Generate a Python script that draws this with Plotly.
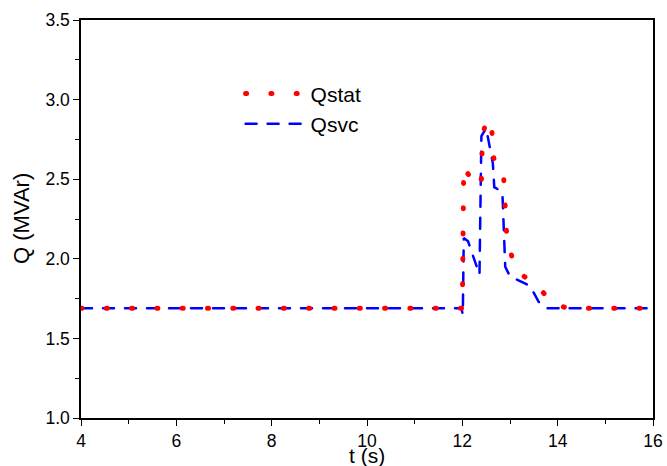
import plotly.graph_objects as go

# Reactive power of the STATCOM (Qstat) and the SVC (Qsvc) versus time
t_stat = [4.0, 12.0, 12.03, 12.28, 12.40, 12.42, 12.50, 12.62, 12.66, 12.86,
          12.93, 13.05, 13.25, 13.60, 13.90, 14.20, 16.0]
q_stat = [1.69, 1.69, 2.58, 2.45, 2.50, 2.75, 2.88, 2.80, 2.63, 2.55,
          2.15, 2.00, 1.90, 1.82, 1.72, 1.69, 1.69]

t_svc = [4.0, 11.98, 12.01, 12.03, 12.12, 12.36, 12.40, 12.50, 12.64, 12.67,
         12.84, 12.90, 13.00, 13.20, 13.42, 13.60, 13.75, 16.0]
q_svc = [1.69, 1.69, 1.65, 2.13, 2.11, 1.90, 2.77, 2.82, 2.60, 2.45,
         2.42, 1.95, 1.89, 1.86, 1.83, 1.73, 1.69, 1.69]

x_ticks = [4, 6, 8, 10, 12, 14, 16]
y_ticks = [1.0, 1.5, 2.0, 2.5, 3.0, 3.5]

FONT = "Liberation Sans, Arial, sans-serif"

fig = go.Figure()
fig.add_trace(go.Scatter(
    x=t_svc, y=q_svc, mode="lines", name="Qsvc",
    line=dict(color="#0000ff", width=2.5, dash="11px,11px"),
))
fig.add_trace(go.Scatter(
    x=t_stat, y=q_stat, mode="lines", name="Qstat",
    line=dict(color="#ff0000", width=5, dash="1px,24.3px"),
))

axis_common = dict(
    showline=True, linecolor="black", linewidth=1.5, mirror=True,
    ticks="outside", ticklen=6, tickwidth=1.2, tickcolor="black",
    showgrid=False, zeroline=False, automargin=False,
    tickfont=dict(family=FONT, size=17.5, color="black"),
)

fig.update_xaxes(
    range=[4, 16], tickvals=x_ticks, ticktext=[str(v) for v in x_ticks],
    minor=dict(ticks="outside", ticklen=4, tickwidth=1, dtick=1, tick0=4,
               tickcolor="black"),
    **axis_common,
)
fig.update_yaxes(
    range=[1.0, 3.5], tickvals=y_ticks, ticktext=[f"{v:.1f}" for v in y_ticks],
    minor=dict(ticks="outside", ticklen=4, tickwidth=1, dtick=0.25, tick0=1.0,
               tickcolor="black"),
    **axis_common,
)

# Axis titles placed as annotations so they sit just outside the tick labels
fig.add_annotation(
    text="t (s)", xref="paper", yref="paper", x=0.5, y=0,
    xanchor="center", yanchor="top", yshift=-25, showarrow=False,
    borderpad=0, font=dict(family=FONT, size=21, color="black"),
)
fig.add_annotation(
    text="Q (MVAr)", xref="paper", yref="paper", x=0, y=0.5,
    xanchor="center", yanchor="middle", xshift=-60, textangle=-90,
    showarrow=False, font=dict(family=FONT, size=22, color="black"),
)

fig.update_layout(
    width=667, height=466,
    margin=dict(l=81, r=14, t=20, b=47.5),
    plot_bgcolor="white", paper_bgcolor="white",
    font=dict(family=FONT, color="black"),
    legend=dict(
        x=0.279, y=0.866, xanchor="left", yanchor="top",
        traceorder="reversed", itemwidth=60, tracegroupgap=0,
        font=dict(family=FONT, size=21, color="black"),
        bgcolor="rgba(0,0,0,0)",
    ),
)

round_caps = """
document.querySelectorAll('.scatterlayer .js-line, .legend .js-line').forEach(function(p){
  p.style.strokeLinecap = 'round';
});
"""

fig.write_html("out.html", post_script=round_caps)
